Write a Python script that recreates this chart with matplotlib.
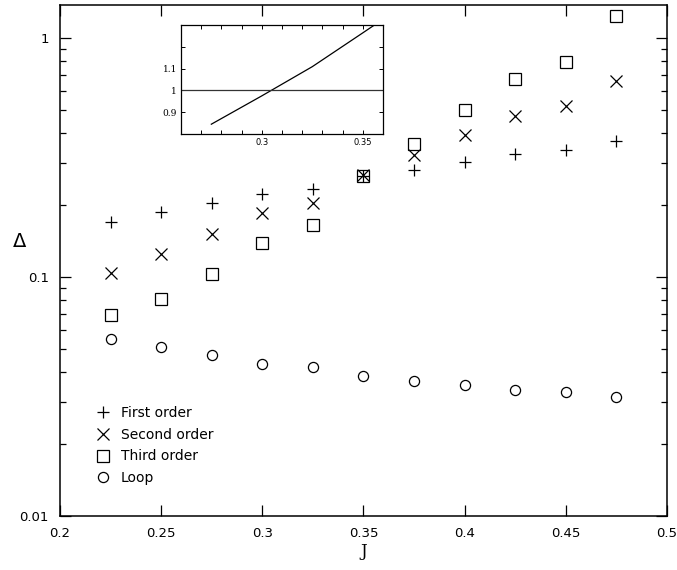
import matplotlib
matplotlib.use("Agg")
import matplotlib.pyplot as plt
from matplotlib.ticker import FixedLocator, NullFormatter, LogLocator, MultipleLocator

J = [0.225, 0.25, 0.275, 0.3, 0.325, 0.35, 0.375, 0.4, 0.425, 0.45, 0.475]
first_order = [0.170, 0.187, 0.204, 0.222, 0.234, 0.265, 0.280, 0.303, 0.327, 0.340, 0.371]
second_order = [0.104, 0.125, 0.151, 0.185, 0.204, 0.267, 0.324, 0.393, 0.472, 0.519, 0.661]
third_order = [0.0693, 0.0809, 0.103, 0.139, 0.165, 0.265, 0.360, 0.500, 0.674, 0.794, 1.236]
loop = [0.0550, 0.0509, 0.0472, 0.0433, 0.0420, 0.0385, 0.0367, 0.0353, 0.0337, 0.0330, 0.0315]

inset_J = [0.275, 0.3, 0.325, 0.35, 0.375]
inset_ratio = [0.845, 0.975, 1.109, 1.264, 1.42]

x_ticks = [0.2, 0.25, 0.3, 0.35, 0.4, 0.45, 0.5]
x_labels = ["0.2", "0.25", "0.3", "0.35", "0.4", "0.45", "0.5"]
y_ticks = [0.01, 0.1, 1]
y_labels = ["0.01", "0.1", "1"]

fig = plt.figure(figsize=(6.77, 5.70), dpi=100)
ax = fig.add_axes([0.0886, 0.0947, 0.8966, 0.8965])

mk = dict(linestyle="none", color="black", markerfacecolor="none", markeredgewidth=0.9)
ax.plot(J, first_order, marker="+", markersize=8, label="First order", **mk)
ax.plot(J, second_order, marker="x", markersize=8, label="Second order", **mk)
ax.plot(J, third_order, marker="s", markersize=8, label="Third order", **mk)
ax.plot(J, loop, marker="o", markersize=7.3, label="Loop", **mk)

ax.set_yscale("log")
ax.set_xlim(0.2, 0.5)
ax.set_ylim(0.01, 1.37)
ax.set_xticks(x_ticks)
ax.set_xticklabels(x_labels, fontsize=9.5)
ax.set_yticks(y_ticks)
ax.set_yticklabels(y_labels, fontsize=9.5)
ax.yaxis.set_minor_locator(LogLocator(base=10, subs=range(2, 10)))
ax.yaxis.set_minor_formatter(NullFormatter())
ax.tick_params(axis="both", which="major", direction="in", length=8, width=0.9,
               top=True, right=True, pad=8)
ax.tick_params(axis="y", which="minor", direction="in", length=4, width=0.9,
               left=True, right=True)
ax.tick_params(axis="x", which="minor", bottom=False, top=False)
for s in ax.spines.values():
    s.set_linewidth(1.1)

ax.set_xlabel("J", fontsize=12, family="DejaVu Serif", labelpad=2)
ax.set_ylabel("Δ", fontsize=14, rotation=0, va="center", ha="center")
ax.yaxis.set_label_coords(-0.066, 0.538)

leg = ax.legend(loc="upper left", bbox_to_anchor=(0.05, 0.226), frameon=False,
                fontsize=10, handlelength=1.0, handletextpad=0.8, labelspacing=0.55,
                borderaxespad=0)

# inset
ins = fig.add_axes([0.2674, 0.7649, 0.2983, 0.1912])
ins.plot(inset_J, inset_ratio, color="black", linewidth=0.9)
ins.axhline(1.0, color="#333333", linewidth=0.9)
ins.set_xlim(0.26, 0.36)
ins.set_ylim(0.8, 1.3)
ins.xaxis.set_major_locator(FixedLocator([0.3, 0.35]))
ins.xaxis.set_minor_locator(MultipleLocator(0.01))
ins.set_xticklabels(["0.3", "0.35"], fontsize=6)
ins.yaxis.set_major_locator(FixedLocator([0.9, 1.0, 1.1, 1.2]))
ins.set_yticklabels(["0.9", "1", "1.1", ""], fontsize=6.5, family="DejaVu Serif")
ins.tick_params(axis="both", which="both", direction="in", length=3, width=0.7,
                top=True, right=True, pad=3)
for s in ins.spines.values():
    s.set_linewidth(0.9)

fig.savefig("out.png", dpi=100)
